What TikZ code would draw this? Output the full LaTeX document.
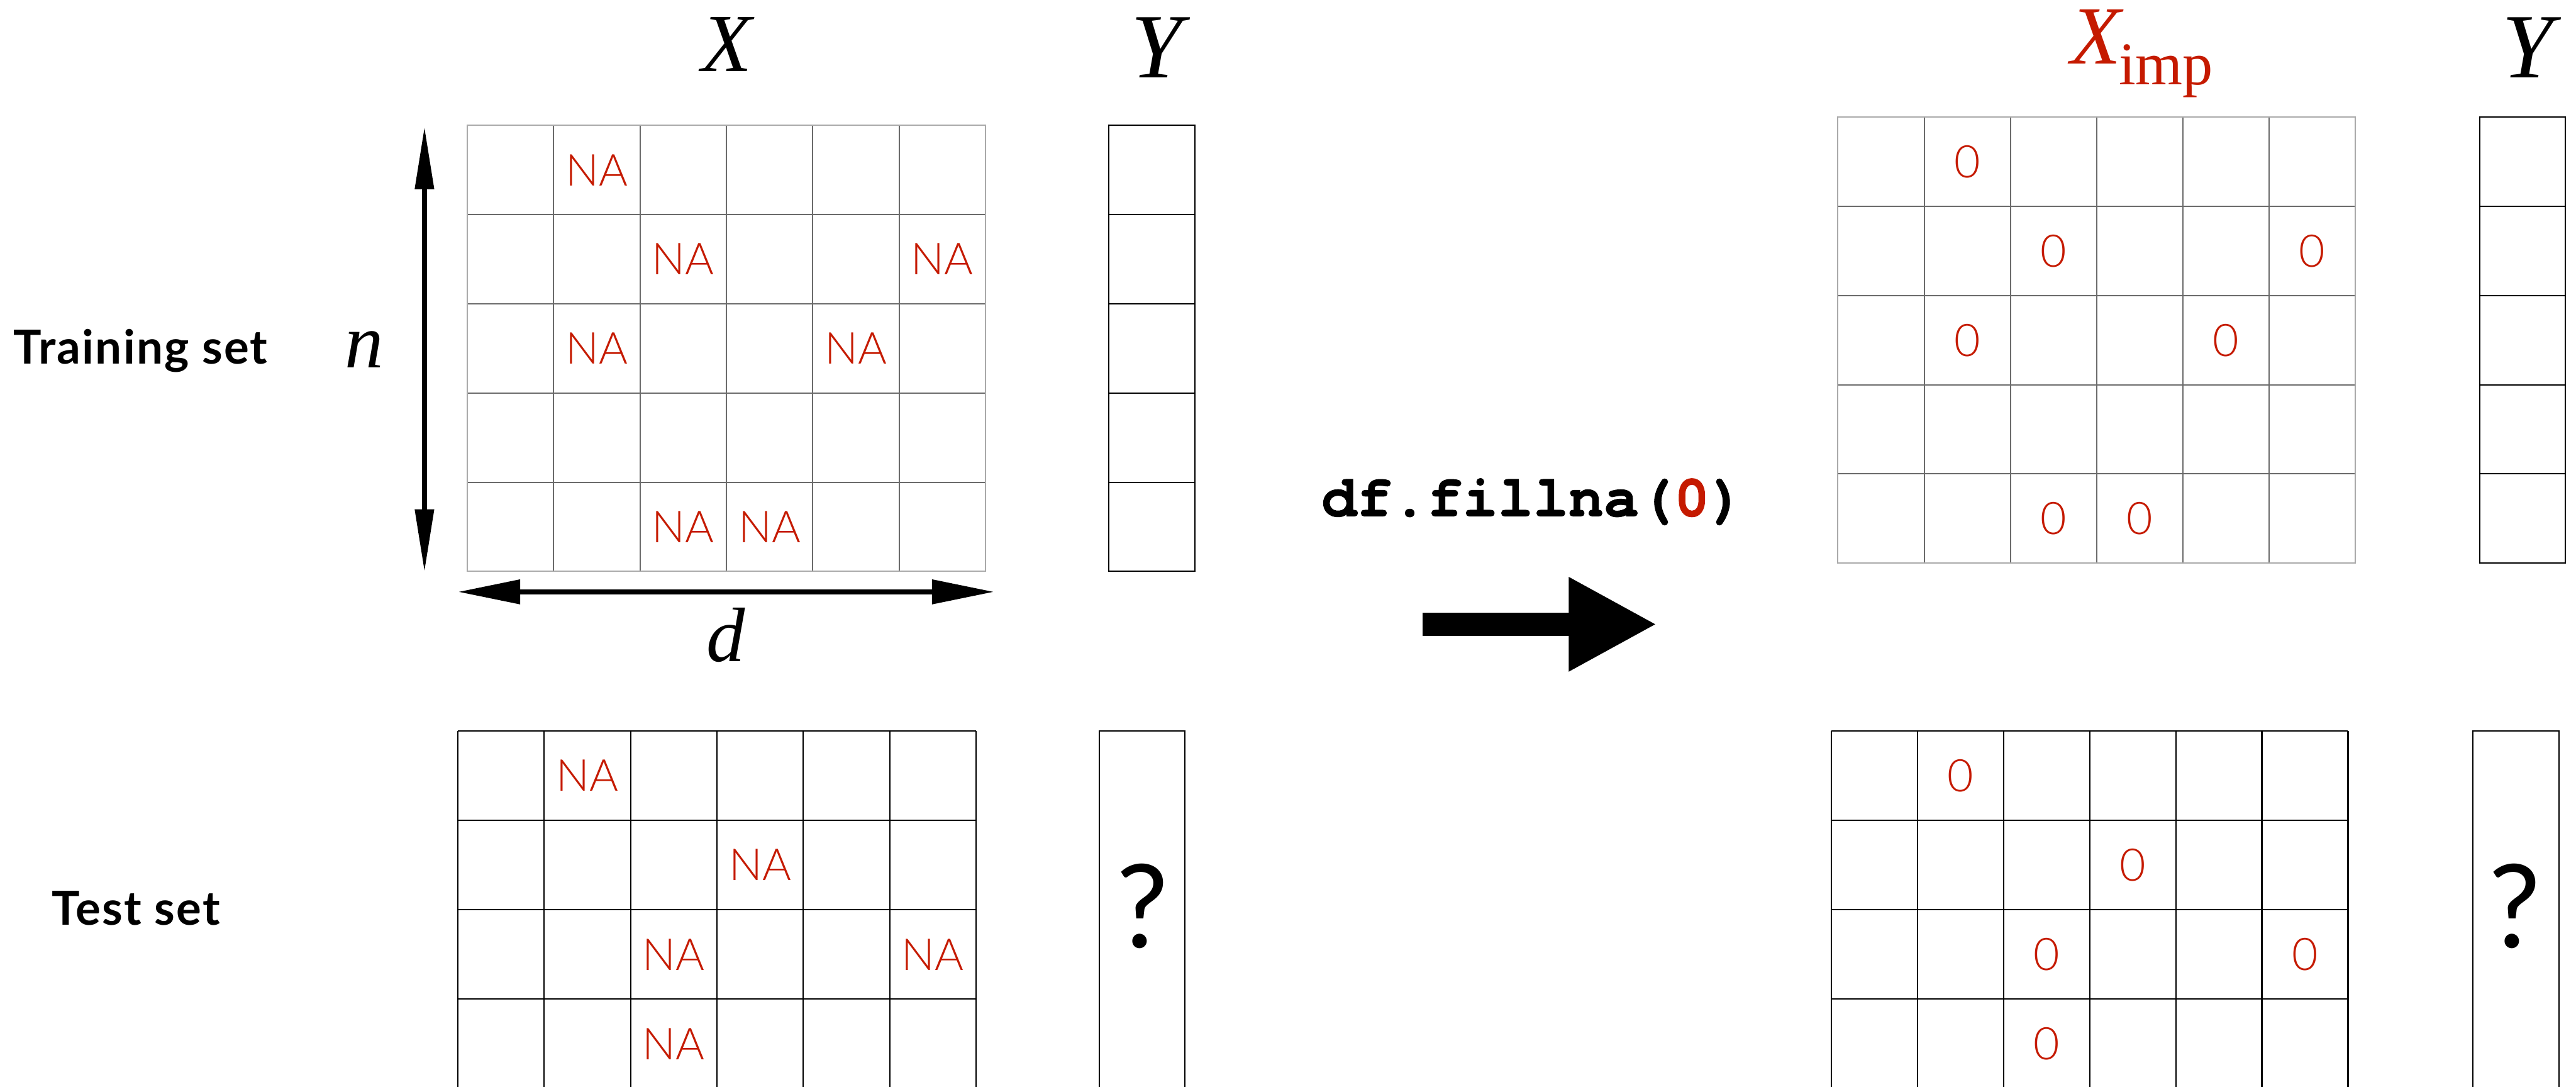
\documentclass[tikz,border=0pt]{standalone}
\usepackage{fontspec}
\setmainfont{Liberation Serif}
\IfFontExistsTF{TeX Gyre Cursor}{\newfontfamily\codefont{TeX Gyre Cursor}[Ligatures=NoCommon, BoldFeatures={FakeBold=1.2}]}{\newfontfamily\codefont{Liberation Mono}}
\newfontfamily\headfont{Lato}
\newfontfamily\setfont{Lato}[LetterSpace=3]
\IfFontExistsTF{Lato Light}{\newfontfamily\cellfont{Lato Light}}{\newfontfamily\cellfont{Lato}}
\usetikzlibrary{arrows.meta}

\definecolor{imred}{RGB}{197,26,0}
\definecolor{gridgray}{RGB}{107,107,107}
\definecolor{edgegray}{RGB}{170,170,170}

\tikzset{
  na/.style={text=imred, font=\cellfont\fontsize{24}{24}\selectfont},
  zero/.style={text=imred, font=\cellfont\fontsize{24.5}{24.5}\selectfont},
  unknown/.style={text=black, font=\headfont\fontsize{63}{63}\selectfont},
  setlabel/.style={anchor=base west, inner sep=0pt, font=\setfont\bfseries\fontsize{25.5}{25.5}\selectfont},
  matlabel/.style={anchor=base, inner sep=0pt, font=\itshape\fontsize{45}{45}\selectfont},
  ylabel/.style={anchor=base, inner sep=0pt, font=\itshape\fontsize{50}{50}\selectfont},
  dimlabel/.style={anchor=base, inner sep=0pt, font=\itshape\fontsize{42}{42}\selectfont},
}

\begin{document}
\begin{tikzpicture}[x=1cm, y=1cm, line width=0.7pt]
      \clip (0,0) rectangle (49.28,20.78);
      %
      % training set: X with missing values
      \begin{scope}[shift={(8.94,9.85)}, x=1.652cm, y=1.706cm, gridgray]
      \draw(0,1) -- (6,1); % rows
      \draw(0,2) -- (6,2);
      \draw(0,3) -- (6,3);
      \draw(0,4) -- (6,4);
      %
      \draw(1,0) -- (1,5); % cols
      \draw(2,0) -- (2,5);
      \draw(3,0) -- (3,5);
      \draw(4,0) -- (4,5);
      \draw(5,0) -- (5,5);
      %
      \draw[edgegray] (0,0) rectangle (6,5); % border
      %
      \node[na] (xna12) at (1.5,4.5) {NA};   % first row
      \node[na] (xna23) at (2.5,3.5) {NA};   % second row
      \node[na] (xna26) at (5.5,3.5) {NA};
      \node[na] (xna32) at (1.5,2.5) {NA};   % third row
      \node[na] (xna35) at (4.5,2.5) {NA};
      \node[na] (xna53) at (2.5,0.5) {NA};   % last row
      \node[na] (xna54) at (3.5,0.5) {NA};
      \end{scope}
      %
      % training set: Y
      \begin{scope}[shift={(21.21,9.85)}, x=1.65cm, y=1.706cm]
      \draw(0,0) rectangle (1,5);
      \draw(0,1) -- (1,1);
      \draw(0,2) -- (1,2);
      \draw(0,3) -- (1,3);
      \draw(0,4) -- (1,4);
      \end{scope}
      %
      % test set: X with missing values
      \begin{scope}[shift={(8.76,-0.04)}, x=1.652cm, y=1.71cm]
      \draw(0,4) -- (6,4); % rows
      \draw(0,3) -- (6,3);
      \draw(0,2) -- (6,2);
      \draw(0,1) -- (6,1);
      %
      \draw(0,0) -- (0,4); % cols
      \draw(1,0) -- (1,4);
      \draw(2,0) -- (2,4);
      \draw(3,0) -- (3,4);
      \draw(4,0) -- (4,4);
      \draw(5,0) -- (5,4);
      \draw(6,0) -- (6,4);
      %
      \node[na] (tna12) at (1.5,3.5) {NA};
      \node[na] (tna24) at (3.5,2.5) {NA};
      \node[na] (tna33) at (2.5,1.5) {NA};
      \node[na] (tna36) at (5.5,1.5) {NA};
      \node[na] (tna43) at (2.5,0.5) {NA};
      \end{scope}
      %
      % test set: unknown Y
      \draw(21.03,-0.1) -- (21.03,6.80) -- (22.67,6.80) -- (22.67,-0.1);
      \node[unknown] (yq) at (21.86,3.445) {?};
      %
      % imputed training X
      \begin{scope}[shift={(35.16,10.01)}, x=1.65cm, y=1.706cm, gridgray]
      \draw(0,1) -- (6,1); % rows
      \draw(0,2) -- (6,2);
      \draw(0,3) -- (6,3);
      \draw(0,4) -- (6,4);
      %
      \draw(1,0) -- (1,5); % cols
      \draw(2,0) -- (2,5);
      \draw(3,0) -- (3,5);
      \draw(4,0) -- (4,5);
      \draw(5,0) -- (5,5);
      %
      \draw[edgegray] (0,0) rectangle (6,5); % border
      %
      \node[zero] (xz12) at (1.5,4.5) {0};
      \node[zero] (xz23) at (2.5,3.5) {0};
      \node[zero] (xz26) at (5.5,3.5) {0};
      \node[zero] (xz32) at (1.5,2.5) {0};
      \node[zero] (xz35) at (4.5,2.5) {0};
      \node[zero] (xz53) at (2.5,0.5) {0};
      \node[zero] (xz54) at (3.5,0.5) {0};
      \end{scope}
      %
      \begin{scope}[shift={(47.44,10.01)}, x=1.64cm, y=1.706cm]
      \draw(0,0) rectangle (1,5);
      \draw(0,1) -- (1,1);
      \draw(0,2) -- (1,2);
      \draw(0,3) -- (1,3);
      \draw(0,4) -- (1,4);
      \end{scope}
      %
      % imputed test X
      \begin{scope}[shift={(35.03,-0.04)}, x=1.648cm, y=1.71cm]
      \draw(0,4) -- (6,4); % rows
      \draw(0,3) -- (6,3);
      \draw(0,2) -- (6,2);
      \draw(0,1) -- (6,1);
      %
      \draw(0,0) -- (0,4); % cols
      \draw(1,0) -- (1,4);
      \draw(2,0) -- (2,4);
      \draw(3,0) -- (3,4);
      \draw(4,0) -- (4,4);
      \draw(5,0) -- (5,4);
      \draw(6,0) -- (6,4);
      %
      \node[zero] (tz12) at (1.5,3.5) {0};
      \node[zero] (tz24) at (3.5,2.5) {0};
      \node[zero] (tz33) at (2.5,1.5) {0};
      \node[zero] (tz36) at (5.5,1.5) {0};
      \node[zero] (tz43) at (2.5,0.5) {0};
      \end{scope}
      %
      \draw(47.31,-0.1) -- (47.31,6.80) -- (48.95,6.80) -- (48.95,-0.1);
      \node[unknown] (yqimp) at (48.11,3.445) {?};
      %
      % labels
      \node[matlabel] (xlab) at (13.90,19.41) {X};
      \node[ylabel] (ylab) at (22.13,19.29) {Y};
      \node[matlabel, text=imred] (ximplab) at (40.10,19.56)
        {X\rlap{\kern-0.05cm\raisebox{-0.40cm}{\upshape\fontsize{33}{33}\selectfont imp}}};
      \node[ylabel] (yimplab) at (48.35,19.29) {Y};
      \node[setlabel] (train) at (0.25,13.82) {Training set};
      \node[setlabel] (test) at (0.98,3.09) {Test set};
      %
      % n and d
      \coordinate (ntop) at (8.12,18.36);
      \coordinate (nbot) at (8.12,9.84);
      \draw[line width=0.09cm, {Triangle[length=1.2cm, width=0.35cm]}-{Triangle[length=1.2cm, width=0.35cm]}] (nbot) -- (ntop);
      \node[dimlabel] (nlab) at (6.97,13.75) {n};
      %
      \coordinate (dleft) at (8.76,9.46);
      \coordinate (dright) at (19.02,9.46);
      \draw[line width=0.1cm, {Triangle[length=1.19cm, width=0.45cm]}-{Triangle[length=1.19cm, width=0.45cm]}] (dleft) -- (dright);
      \node[dimlabel] (dlab) at (13.88,8.13) {d};
      %
      % imputation step
      \node[anchor=base, inner sep=0pt, font=\codefont\bfseries\fontsize{32}{32}\selectfont] (fillna) at (29.33,10.91) {df.fillna(\textcolor{imred}{0})};
      \coordinate (fillstart) at (27.21,8.84);
      \coordinate (fillend) at (31.70,8.84);
      \draw[line width=0.45cm, -{Triangle[length=1.69cm, width=1.68cm]}] (fillstart) -- (fillend);
    \end{tikzpicture}
\end{document}
